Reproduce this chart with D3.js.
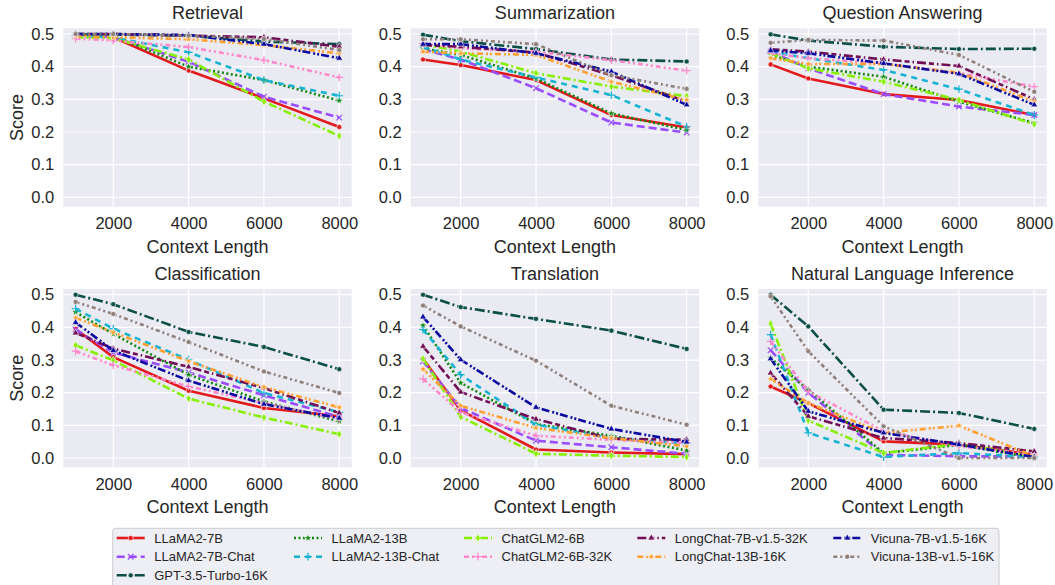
<!DOCTYPE html>
<html><head><meta charset="utf-8">
<script src="https://cdn.jsdelivr.net/npm/d3@7"></script>
<style>body{margin:0;background:#fff;}svg{display:block;font-family:Arial,"Liberation Sans",sans-serif;}</style>
</head><body><svg id="c" width="1055" height="585"></svg>
<script>
const models = ["LLaMA2-7B","LLaMA2-7B-Chat","GPT-3.5-Turbo-16K","LLaMA2-13B","LLaMA2-13B-Chat","ChatGLM2-6B","ChatGLM2-6B-32K","LongChat-7B-v1.5-32K","LongChat-13B-16K","Vicuna-7B-v1.5-16K","Vicuna-13B-v1.5-16K"];
const contextLengths = [1000, 2000, 4000, 6000, 8000];
const taskNames = ["Retrieval","Summarization","Question Answering","Classification","Translation","Natural Language Inference"];
const xTicks = [2000, 4000, 6000, 8000];
const yTicks = [0.0, 0.1, 0.2, 0.3, 0.4, 0.5];

const retrieval = [
 [0.50,0.49,0.388,0.303,0.215],[0.495,0.49,0.415,0.308,0.244],[0.50,0.498,0.495,0.477,0.469],
 [0.50,0.495,0.40,0.359,0.296],[0.495,0.49,0.444,0.359,0.311],[0.49,0.487,0.422,0.293,0.188],
 [0.486,0.48,0.46,0.42,0.367],[0.50,0.50,0.495,0.49,0.461],[0.495,0.49,0.484,0.466,0.441],
 [0.50,0.50,0.497,0.469,0.426],[0.50,0.50,0.495,0.485,0.451]];
const summarization = [
 [0.422,0.405,0.359,0.252,0.214],[0.453,0.422,0.334,0.229,0.198],[0.498,0.478,0.454,0.422,0.416],
 [0.456,0.436,0.364,0.257,0.206],[0.461,0.422,0.367,0.313,0.216],[0.469,0.446,0.38,0.339,0.31],
 [0.471,0.456,0.446,0.42,0.388],[0.466,0.461,0.443,0.374,0.293],[0.446,0.441,0.436,0.354,0.298],
 [0.469,0.469,0.441,0.385,0.283],[0.484,0.484,0.469,0.374,0.332]];
const questionAnswering = [
 [0.407,0.364,0.316,0.298,0.252],[0.446,0.395,0.316,0.278,0.252],[0.499,0.48,0.461,0.454,0.455],
 [0.436,0.40,0.369,0.293,0.227],[0.446,0.426,0.39,0.331,0.252],[0.441,0.395,0.354,0.298,0.224],
 [0.441,0.426,0.41,0.38,0.339],[0.453,0.446,0.422,0.402,0.30],[0.426,0.408,0.408,0.382,0.293],
 [0.449,0.441,0.41,0.378,0.283],[0.473,0.482,0.48,0.436,0.323]];
const classification = [
 [0.395,0.309,0.206,0.153,0.128],[0.393,0.323,0.262,0.192,0.126],[0.50,0.471,0.386,0.34,0.272],
 [0.447,0.38,0.255,0.173,0.112],[0.457,0.396,0.301,0.199,0.14],[0.345,0.299,0.182,0.124,0.073],
 [0.327,0.284,0.219,0.168,0.119],[0.383,0.335,0.279,0.214,0.138],[0.429,0.385,0.296,0.217,0.155],
 [0.415,0.329,0.237,0.165,0.122],[0.478,0.441,0.355,0.265,0.199]];
const translation = [
 [0.304,0.146,0.026,0.017,0.012],[0.296,0.153,0.053,0.033,0.013],[0.50,0.462,0.426,0.39,0.334],
 [0.406,0.23,0.104,0.068,0.023],[0.393,0.255,0.102,0.061,0.044],[0.304,0.126,0.013,0.007,0.003],
 [0.242,0.14,0.068,0.056,0.046],[0.342,0.202,0.119,0.059,0.056],[0.272,0.16,0.092,0.061,0.036],
 [0.432,0.301,0.155,0.089,0.049],[0.467,0.403,0.298,0.16,0.102]];
const nli = [
 [0.219,0.168,0.051,0.041,0.01],[0.33,0.20,0.01,0.005,0.005],[0.50,0.403,0.148,0.138,0.089],
 [0.306,0.209,0.015,0.04,0.0],[0.378,0.077,0.003,0.015,0.003],[0.411,0.115,0.015,0.044,0.005],
 [0.357,0.204,0.082,0.036,0.01],[0.26,0.128,0.061,0.046,0.02],[0.242,0.168,0.077,0.099,0.005],
 [0.304,0.143,0.077,0.041,0.003],[0.495,0.327,0.097,0.0,0.0]];
const taskData = [retrieval, summarization, questionAnswering, classification, translation, nli];

const colors = ["#e31a1c","#9a4dff","#0c4f47","#10870f","#17b4d2","#86f000","#ff88cc","#700f55","#ffa033","#0a0aa0","#8f7f7a"];
const dashes = ["", "8,4", "10,3,2,3", "2,2.5", "6,5", "8,3,2,3", "5,3,2,3,2,3", "9,3,5,3,1.5,3", "6,3,2,2,2,3", "8,3,2,2,2,2", "4,3,2,3,2,3"];
const symbols = [d3.symbolCircle, d3.symbolX, d3.symbolCircle, d3.symbolStar, d3.symbolPlus, d3.symbolDiamond, d3.symbolPlus, d3.symbolTriangle, d3.symbolStar, d3.symbolTriangle, d3.symbolCircle];
const strokeSym = [false,true,false,false,true,false,true,false,false,false,false];

const svg = d3.select("#c");
const textColor = "#262626";
const colLeft = [63.3, 410.7, 758.3];
const plotW = 288.4;
const rowTop = [28.3, 289];
const plotH = 178.4;

taskNames.forEach((name, ti) => {
  const col = ti % 3, row = Math.floor(ti / 3);
  const g = svg.append("g").attr("transform", `translate(${colLeft[col]},${rowTop[row]})`);
  const x = d3.scaleLinear().domain([673, 8330]).range([0, plotW]);
  const y = d3.scaleLinear().domain([-0.0288, 0.5175]).range([plotH, 0]);
  g.append("rect").attr("width", plotW).attr("height", plotH).attr("fill", "#eaeaf2");
  // grid
  g.selectAll(".gx").data(xTicks).enter().append("line")
    .attr("x1", d => x(d)).attr("x2", d => x(d)).attr("y1", 0).attr("y2", plotH)
    .attr("stroke", "#fff").attr("stroke-width", 1.2);
  g.selectAll(".gy").data(yTicks).enter().append("line")
    .attr("y1", d => y(d)).attr("y2", d => y(d)).attr("x1", 0).attr("x2", plotW)
    .attr("stroke", "#fff").attr("stroke-width", 1.2);
  // axes
  const xa = g.append("g").attr("transform", `translate(0,${plotH})`)
    .call(d3.axisBottom(x).tickValues(xTicks).tickSize(0).tickPadding(11).tickFormat(d3.format("d")));
  xa.select(".domain").remove();
  xa.selectAll("text").attr("font-size", 16.5).attr("fill", textColor).attr("font-family", "Arial, 'Liberation Sans', sans-serif");
  const ya = g.append("g").call(d3.axisLeft(y).tickValues(yTicks).tickSize(0).tickPadding(9).tickFormat(d3.format(".1f")));
  ya.select(".domain").remove();
  ya.selectAll("text").attr("font-size", 16.5).attr("fill", textColor).attr("font-family", "Arial, 'Liberation Sans', sans-serif");
  // title and labels
  g.append("text").attr("x", plotW / 2).attr("y", -9).attr("text-anchor", "middle")
    .attr("font-size", 18).attr("fill", textColor).text(name);
  g.append("text").attr("x", plotW / 2).attr("y", plotH + 46).attr("text-anchor", "middle")
    .attr("font-size", 18).attr("fill", textColor).text("Context Length");
  if (col === 0) {
    g.append("text").attr("transform", `translate(${-40},${plotH / 2}) rotate(-90)`)
      .attr("text-anchor", "middle").attr("font-size", 18).attr("fill", textColor).text("Score");
  }
  const line = d3.line().x((d, i) => x(contextLengths[i])).y(d => y(d));
  taskData[ti].forEach((vals, mi) => {
    g.append("path").datum(vals).attr("d", line).attr("fill", "none")
      .attr("stroke", colors[mi]).attr("stroke-width", 2.6)
      .attr("stroke-dasharray", dashes[mi] || null).attr("stroke-linejoin", "round");
    g.selectAll(null).data(vals).enter().append("path")
      .attr("transform", (d, i) => `translate(${x(contextLengths[i])},${y(d)})`)
      .attr("d", d3.symbol().type(symbols[mi]).size(strokeSym[mi] ? 22 : 20))
      .attr("fill", strokeSym[mi] ? "none" : colors[mi])
      .attr("stroke", strokeSym[mi] ? colors[mi] : "#fff")
      .attr("stroke-width", strokeSym[mi] ? 1.2 : 0.6);
  });
});

// legend
const lg = svg.append("g");
lg.append("rect").attr("x", 112.7).attr("y", 528.3).attr("width", 886.3).attr("height", 62).attr("rx", 3)
  .attr("fill", "#eeeef5").attr("stroke", "#cccccc").attr("stroke-width", 1);
const colX = [116.7, 294, 464, 637.3, 833.3];
const rowY = [538, 556.7, 575.3];
const perCol = [3, 2, 2, 2, 2];
let idx = 0;
perCol.forEach((n, c) => {
  for (let r = 0; r < n; r++) {
    const mi = idx++;
    const yy = rowY[r], xx = colX[c];
    lg.append("line").attr("x1", xx).attr("x2", xx + 28).attr("y1", yy).attr("y2", yy)
      .attr("stroke", colors[mi]).attr("stroke-width", 2.6).attr("stroke-dasharray", dashes[mi] || null);
    lg.append("path").attr("transform", `translate(${xx + 14},${yy})`)
      .attr("d", d3.symbol().type(symbols[mi]).size(strokeSym[mi] ? 22 : 20))
      .attr("fill", strokeSym[mi] ? "none" : colors[mi])
      .attr("stroke", strokeSym[mi] ? colors[mi] : "#fff")
      .attr("stroke-width", strokeSym[mi] ? 1.2 : 0.6);
    lg.append("text").attr("x", xx + 37.5).attr("y", yy).attr("dy", "0.35em")
      .attr("font-size", 13).attr("fill", textColor).text(models[mi]);
  }
});
</script></body></html>
